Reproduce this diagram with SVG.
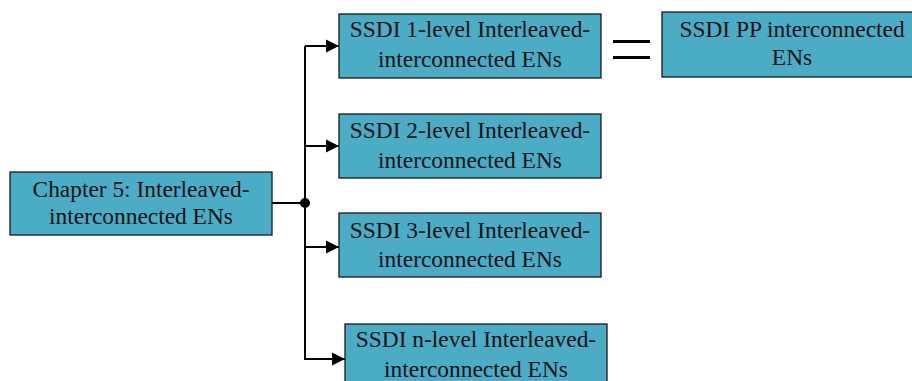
<svg xmlns="http://www.w3.org/2000/svg" width="912" height="381" viewBox="0 0 912 381">
<style>
.box{fill:#4bacc6;stroke:#1a1a1a;stroke-width:1.3}
.t{font-family:"Liberation Serif","Times New Roman",serif;font-size:23.4px;fill:#111;text-anchor:middle}
.ln{fill:none;stroke:#000;stroke-width:2}
</style>
<defs>
<marker id="ah" markerWidth="13" markerHeight="14" refX="13" refY="7" orient="auto" markerUnits="userSpaceOnUse">
<path d="M0,0.5 L13,7 L0,13.5 Z" fill="#000"/>
</marker>
</defs>
<rect width="912" height="381" fill="#fff"/>
<g id="connectors">
<line class="ln" x1="272" y1="203" x2="305" y2="203"/>
<line class="ln" x1="305" y1="46" x2="305" y2="360"/>
<path class="ln" d="M305,46 H339" marker-end="url(#ah)"/>
<path class="ln" d="M305,146 H339" marker-end="url(#ah)"/>
<path class="ln" d="M305,247 H339" marker-end="url(#ah)"/>
<path class="ln" d="M305,359 H345" marker-end="url(#ah)"/>
<circle cx="305" cy="203" r="5" fill="#000"/>
<line x1="613" y1="41.5" x2="650" y2="41.5" stroke="#000" stroke-width="3"/>
<line x1="613" y1="57.5" x2="650" y2="57.5" stroke="#000" stroke-width="3"/>
</g>
<g id="chapter">
<rect class="box" x="10" y="172" width="262" height="63"/>
<text class="t" x="141" y="197">Chapter 5: Interleaved-</text>
<text class="t" x="141" y="224">interconnected ENs</text>
</g>
<g id="level1">
<rect class="box" x="339" y="14" width="262" height="64"/>
<text class="t" x="470" y="37">SSDI 1-level Interleaved-</text>
<text class="t" x="470" y="67">interconnected ENs</text>
</g>
<g id="pp">
<rect class="box" x="662" y="12" width="262" height="65"/>
<text class="t" x="792" y="37">SSDI PP interconnected</text>
<text class="t" x="792" y="65">ENs</text>
</g>
<g id="level2">
<rect class="box" x="339" y="114" width="262" height="64"/>
<text class="t" x="470" y="138">SSDI 2-level Interleaved-</text>
<text class="t" x="470" y="168">interconnected ENs</text>
</g>
<g id="level3">
<rect class="box" x="339" y="213" width="262" height="64"/>
<text class="t" x="470" y="238">SSDI 3-level Interleaved-</text>
<text class="t" x="470" y="267">interconnected ENs</text>
</g>
<g id="leveln">
<rect class="box" x="345" y="324" width="262" height="64"/>
<text class="t" x="476" y="347">SSDI n-level Interleaved-</text>
<text class="t" x="476" y="377">interconnected ENs</text>
</g>
</svg>
